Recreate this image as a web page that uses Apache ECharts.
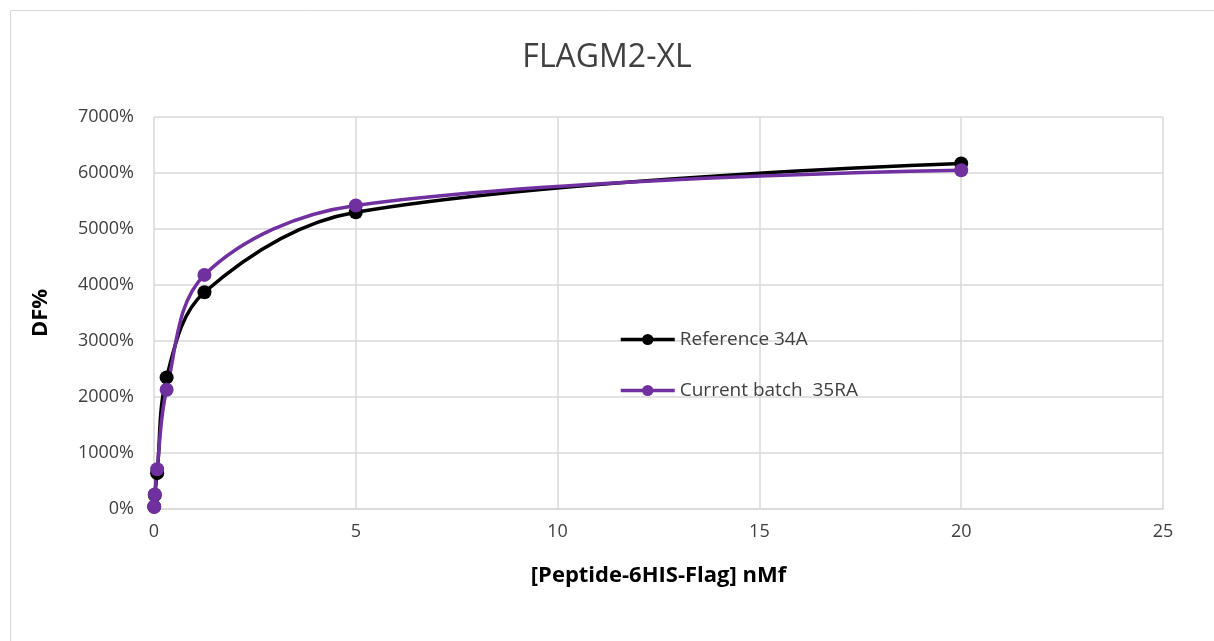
<!DOCTYPE html>
<html>
<head>
<meta charset="utf-8">
<script src="https://cdn.jsdelivr.net/npm/echarts@6/dist/echarts.min.js"></script>
<style>
  html, body { margin: 0; padding: 0; background: #fff; }
  #chart { width: 1214px; height: 641px; }
</style>
</head>
<body>
<div id="chart"></div>
<script>
// concentrations, nM
const conc = [0.0049, 0.0195, 0.078, 0.3125, 1.25, 5, 20]
// DF% values
const ref34A = [40, 250, 640, 2350, 3870, 5300, 6170]
const cur35RA = [40, 260, 710, 2130, 4180, 5420, 6050]

const xTicks = [0, 5, 10, 15, 20, 25]
const yTicks = [0, 1000, 2000, 3000, 4000, 5000, 6000, 7000]

const font = '"Open Sans", sans-serif'

const pairs = (xs, ys) => xs.map((x, i) => [x, ys[i]])

const chart = echarts.init(document.getElementById('chart'))

chart.setOption({
  backgroundColor: '#fff',
  animation: false,
  graphic: [{
    type: 'rect',
    shape: { x: 10.5, y: 10.5, width: 1230, height: 660 },
    style: { fill: 'none', stroke: '#d9d9d9', lineWidth: 1 }
  }],
  title: {
    text: 'FLAGM2-XL',
    left: 'center',
    top: 37,
    textStyle: { fontFamily: font, fontWeight: 'normal', fontSize: 32, color: '#404040' }
  },
  legend: {
    orient: 'vertical',
    left: 614,
    top: 325,
    itemGap: 32,
    itemWidth: 54,
    itemHeight: 14,
    itemStyle: { borderWidth: 0 },
    lineStyle: { width: 3.5 },
    textStyle: { fontFamily: font, fontSize: 19, color: '#404040' },
    data: ['Reference 34A', 'Current batch  35RA']
  },
  grid: { left: 154, right: 51, top: 117, bottom: 132 },
  xAxis: {
    type: 'value',
    min: xTicks[0],
    max: xTicks[xTicks.length - 1],
    interval: 5,
    name: '[Peptide-6HIS-Flag] nMf',
    nameLocation: 'middle',
    nameGap: 56,
    nameTextStyle: { fontFamily: font, fontWeight: 'bold', fontSize: 22, color: '#000' },
    axisLine: { show: true, onZero: false, lineStyle: { color: '#d9d9d9', width: 1.5 } },
    axisTick: { show: false },
    axisLabel: { fontFamily: font, fontSize: 18, color: '#404040', margin: 14 },
    splitLine: { show: true, lineStyle: { color: '#d9d9d9', width: 1.5 } }
  },
  yAxis: {
    type: 'value',
    min: yTicks[0],
    max: yTicks[yTicks.length - 1],
    interval: 1000,
    name: 'DF%',
    nameLocation: 'middle',
    nameGap: 102,
    nameTextStyle: { fontFamily: font, fontWeight: 'bold', fontSize: 22, color: '#000' },
    axisLine: { show: false },
    axisTick: { show: false },
    axisLabel: { fontFamily: font, fontSize: 18, color: '#404040', margin: 20, formatter: v => v + '%' },
    splitLine: { show: true, lineStyle: { color: '#d9d9d9', width: 1.5 } }
  },
  series: [{
    name: 'Reference 34A',
    type: 'line',
    smooth: 0.35,
    symbol: 'circle',
    symbolSize: 14,
    lineStyle: { color: '#000', width: 3.5 },
    itemStyle: { color: '#000' },
    data: pairs(conc, ref34A)
  }, {
    name: 'Current batch  35RA',
    type: 'line',
    smooth: 0.35,
    symbol: 'circle',
    symbolSize: 14,
    lineStyle: { color: '#7030a0', width: 3.5 },
    itemStyle: { color: '#7030a0' },
    data: pairs(conc, cur35RA)
  }]
})
</script>
</body>
</html>
